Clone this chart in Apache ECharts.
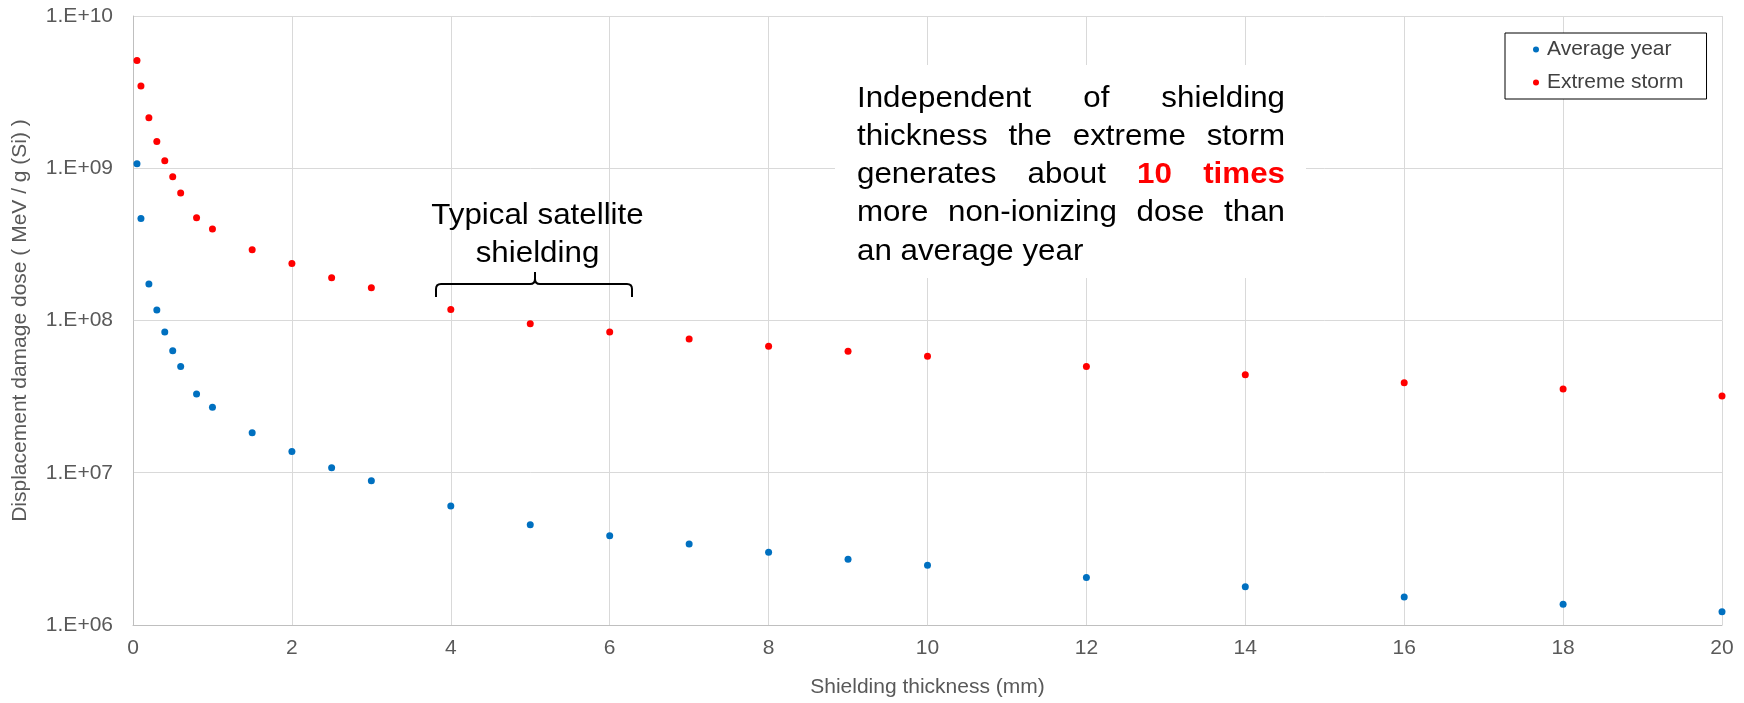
<!DOCTYPE html>
<html>
<head>
<meta charset="utf-8">
<script src="https://cdn.jsdelivr.net/npm/echarts@6/dist/echarts.min.js"></script>
<style>
html,body{margin:0;padding:0;background:#fff;}
#chart{width:1744px;height:703px;}
</style>
</head>
<body>
<div id="chart"></div>
<script>
// ---- data ----
const thickness = [0.05,0.1,0.2,0.3,0.4,0.5,0.6,0.8,1,1.5,2,2.5,3,4,5,6,7,8,9,10,12,14,16,18,20];
const averageYear = [1.07e9,4.67e8,1.74e8,1.17e8,8.41e7,6.34e7,4.99e7,3.29e7,2.69e7,1.83e7,1.38e7,1.08e7,8.85e6,6.04e6,4.56e6,3.86e6,3.41e6,3.0e6,2.70e6,2.47e6,2.05e6,1.78e6,1.53e6,1.37e6,1.22e6];
const extremeStorm = [5.10e9,3.47e9,2.15e9,1.50e9,1.12e9,8.79e8,6.87e8,4.73e8,3.99e8,2.91e8,2.37e8,1.91e8,1.64e8,1.18e8,9.53e7,8.41e7,7.57e7,6.78e7,6.28e7,5.83e7,4.99e7,4.40e7,3.90e7,3.55e7,3.19e7];
const seriesNames = ['Average year','Extreme storm'];
const xTitle = 'Shielding thickness (mm)';
const yTitle = 'Displacement damage dose ( MeV / g (Si) )';
const noteLines = [
  [['Independent'],['of'],['shielding']],
  [['thickness'],['the'],['extreme'],['storm']],
  [['generates'],['about'],['10',true],['times',true]],
  [['more'],['non-ionizing'],['dose'],['than']],
  [['an'],['average'],['year']]
];
const braceLabel = ['Typical satellite','shielding'];

const FONT = '"Liberation Sans", Arial, sans-serif';
const AX = '#595959';

// ---- annotation layout (justified text) ----
const ctx = document.createElement('canvas').getContext('2d');
const NFS = 29, SX = 1.08;
function fontOf(bold){ return (bold ? 'bold ' : '') + NFS + 'px ' + FONT; }
function wWidth(t, bold){ ctx.font = fontOf(bold); return ctx.measureText(t).width * SX; }
const graphics = [];
graphics.push({type:'rect', shape:{x:835,y:65,width:471,height:213}, style:{fill:'#fff'}, z:50});
const noteLeft = 857, noteWidth = 428, noteY0 = 99, notePitch = 38.15;
noteLines.forEach((words, li) => {
  const widths = words.map(w => wWidth(w[0], !!w[1]));
  const sum = widths.reduce((a,b)=>a+b,0);
  const last = li === noteLines.length - 1;
  const gap = last ? wWidth(' ', false) : (noteWidth - sum) / (words.length - 1);
  let x = noteLeft;
  words.forEach((w, i) => {
    graphics.push({
      type:'text', x:x, y:noteY0 + li*notePitch, scaleX:SX, z:60,
      style:{text:w[0], font:fontOf(!!w[1]), fill: w[1] ? '#ff0000' : '#000',
             textAlign:'left', textVerticalAlign:'middle'}
    });
    x += widths[i] + gap;
  });
});
braceLabel.forEach((t, i) => {
  graphics.push({
    type:'text', x:537.5, y:216 + i*38, scaleX:SX, z:60,
    style:{text:t, font:NFS + 'px ' + FONT, fill:'#000',
           textAlign:'center', textVerticalAlign:'middle'}
  });
});
// brace drawn from lines and small curves
const bs = {stroke:'#000', lineWidth:2, fill:null};
function ln(x1,y1,x2,y2){ graphics.push({type:'line', z:60, shape:{x1,y1,x2,y2}, style:bs}); }
function qc(x1,y1,cx,cy,x2,y2){ graphics.push({type:'bezierCurve', z:60, shape:{x1,y1,cpx1:cx,cpy1:cy,x2,y2}, style:bs}); }
ln(436,297,436,289); qc(436,289,436,284,441,284); ln(441,284,530,284); qc(530,284,535,284,535,279); ln(535,279,535,272);
qc(535,279,535,284,540,284); ln(540,284,627,284); qc(627,284,632,284,632,289); ln(632,289,632,297);

function pairs(ys){ return thickness.map((x,i)=>[x, ys[i]]); }

const chart = echarts.init(document.getElementById('chart'), null, {renderer:'canvas'});
chart.setOption({
  animation:false,
  backgroundColor:'#fff',
  textStyle:{fontFamily:FONT},
  grid:{left:133, right:22, top:16, bottom:76, containLabel:false},
  legend:{
    orient:'vertical', left:1505, top:33,
    padding:[6,23,6,28], itemGap:12,
    itemWidth:6, itemHeight:6, icon:'circle',
    borderColor:'#000', borderWidth:1, backgroundColor:'#fff',
    textStyle:{fontSize:21, color:'#404040', fontFamily:FONT, padding:[0,0,0,3]},
    data:seriesNames
  },
  xAxis:{
    type:'value', min:0, max:20, interval:2,
    name:xTitle, nameLocation:'middle', nameGap:52,
    nameTextStyle:{fontSize:21, color:AX, fontFamily:FONT},
    axisLine:{show:true, lineStyle:{color:'#bfbfbf', width:1}},
    axisTick:{show:false},
    axisLabel:{fontSize:21, color:AX, margin:13, fontFamily:FONT},
    splitLine:{show:true, lineStyle:{color:'#d9d9d9', width:1}}
  },
  yAxis:{
    type:'log', logBase:10, min:1e6, max:1e10,
    name:yTitle, nameLocation:'middle', nameGap:102,
    nameTextStyle:{fontSize:21, color:AX, fontFamily:FONT},
    axisLine:{show:true, lineStyle:{color:'#bfbfbf', width:1}},
    axisTick:{show:false},
    axisLabel:{fontSize:21, color:AX, margin:20, fontFamily:FONT,
      formatter:function(v){ const e = Math.round(Math.log10(v)); return '1.E+' + (e < 10 ? '0' : '') + e; }},
    splitLine:{show:true, lineStyle:{color:'#d9d9d9', width:1}}
  },
  series:[
    {name:seriesNames[0], type:'scatter', data:pairs(averageYear), symbol:'circle', symbolSize:7,
     itemStyle:{color:'#0070c0', opacity:1}, z:10},
    {name:seriesNames[1], type:'scatter', data:pairs(extremeStorm), symbol:'circle', symbolSize:7,
     itemStyle:{color:'#ff0000', opacity:1}, z:10}
  ],
  graphic:graphics
});
</script>
</body>
</html>
